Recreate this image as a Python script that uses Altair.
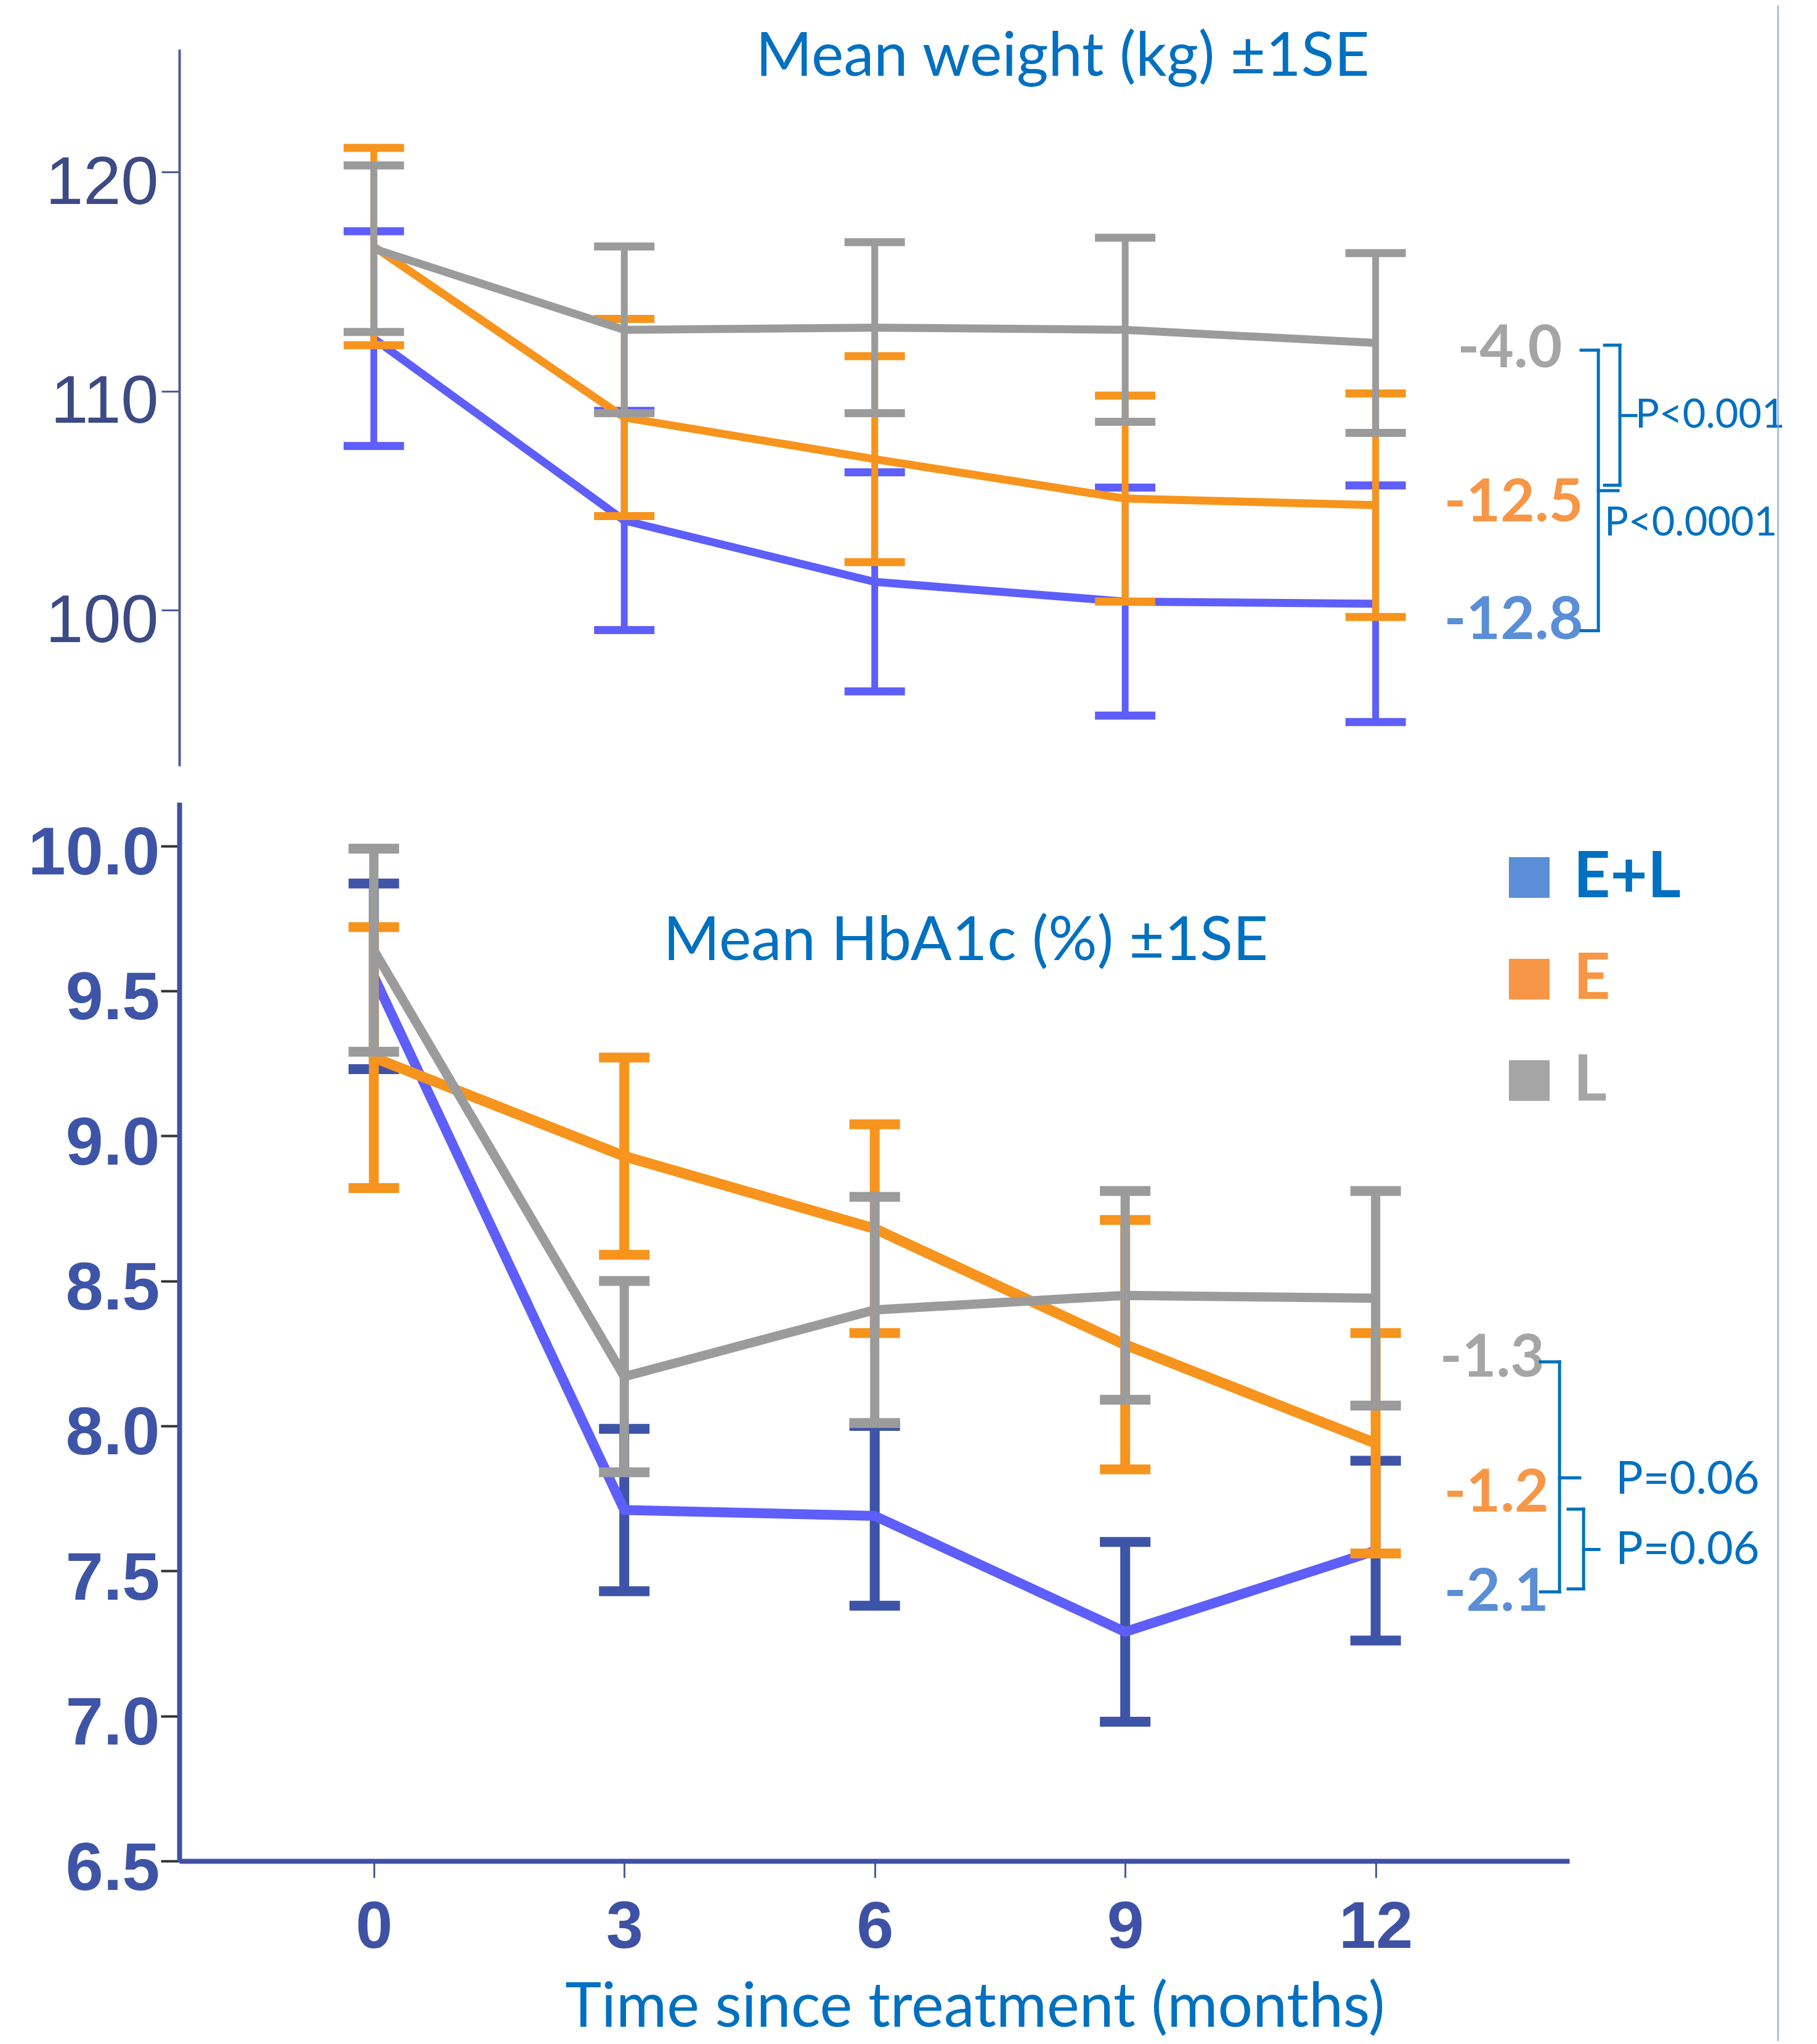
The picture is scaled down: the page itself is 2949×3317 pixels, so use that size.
import altair as alt
import pandas as pd

# ---------------- data ----------------
MONTHS = [0, 3, 6, 9, 12]
GROUPS = ["E+L", "E", "L"]

# Mean weight (kg) and SE
WT_MEAN_EL = [112.4, 104.1, 101.3, 100.4, 100.3]
WT_SE_EL = [4.9, 5.0, 5.0, 5.2, 5.4]
WT_MEAN_E = [116.6, 108.8, 106.9, 105.1, 104.8]
WT_SE_E = [4.5, 4.5, 4.7, 4.7, 5.1]
WT_MEAN_L = [116.5, 112.8, 112.9, 112.8, 112.2]
WT_SE_L = [3.8, 3.8, 3.9, 4.2, 4.1]

# Mean HbA1c (%) and SE
HBA_MEAN_EL = [9.55, 7.71, 7.69, 7.29, 7.57]
HBA_SE_EL = [0.32, 0.28, 0.31, 0.31, 0.31]
HBA_MEAN_E = [9.27, 8.93, 8.68, 8.28, 7.94]
HBA_SE_E = [0.45, 0.34, 0.36, 0.43, 0.38]
HBA_MEAN_L = [9.64, 8.17, 8.40, 8.45, 8.44]
HBA_SE_L = [0.35, 0.33, 0.39, 0.36, 0.37]

WT_TICKS = [100, 110, 120]
HBA_TICKS = [6.5, 7.0, 7.5, 8.0, 8.5, 9.0, 9.5, 10.0]

# annotation texts
WT_TITLE = "Mean weight (kg) \u00b11SE"
HBA_TITLE = "Mean HbA1c (%) \u00b11SE"
X_TITLE = "Time since treatment (months)"
WT_CHANGE = ["-4.0", "-12.5", "-12.8"]
WT_CHANGE_GROUP = ["L", "E", "E+L"]
HBA_CHANGE = ["-1.3", "-1.2", "-2.1"]
HBA_CHANGE_GROUP = ["L", "E", "E+L"]
WT_P = ["P<0.001", "P<0.0001"]
HBA_P = ["P=0.06", "P=0.06"]

# annotation positions (data units: months / kg / %)
WT_CHANGE_X = [12.98, 12.82, 12.82]
WT_CHANGE_Y = [111.08, 104.05, 98.70]
HBA_CHANGE_X = [12.77, 12.82, 12.82]
HBA_CHANGE_Y = [8.170, 7.704, 7.362]
WT_P_X = [15.11, 14.74]
WT_P_Y = [108.35, 103.42]
HBA_P_X = [14.875, 14.875]
HBA_P_Y = [7.766, 7.523]
WT_TITLE_POS = (8.25, 124.39)
HBA_TITLE_POS = (7.09, 9.607)

# bracket segments (x, y, x2, y2)
WT_BRACKETS = [
    (14.742, 112.10, 14.926, 112.10), (14.926, 112.10, 14.926, 105.71),
    (14.742, 105.71, 14.926, 105.71), (14.926, 108.89, 15.118, 108.89),
    (14.461, 111.87, 14.668, 111.87), (14.668, 111.87, 14.668, 99.07),
    (14.461, 99.07, 14.668, 99.07), (14.668, 105.46, 14.904, 105.46),
]
HBA_BRACKETS = [
    (13.974, 8.221, 14.203, 8.221), (14.203, 8.221, 14.203, 7.428),
    (13.974, 7.428, 14.203, 7.428), (14.203, 7.821, 14.446, 7.821),
    (14.306, 7.713, 14.491, 7.713), (14.491, 7.713, 14.491, 7.438),
    (14.306, 7.438, 14.491, 7.438), (14.491, 7.574, 14.675, 7.574),
]

# legend (placed in HbA1c panel)
LEG_SQ_X = 13.84
LEG_SQ_Y = [9.891, 9.540, 9.191]
LEG_TX_X = 14.37
LEG_TX_Y = [9.823, 9.472, 9.121]

# slide border line (in HbA1c panel units)
BORDER_X = 16.82
BORDER_Y = [12.897, 5.879]

# ---------------- styling ----------------
X_DOMAIN = [-2.33, 14.32]
WT_DOMAIN = [92.9, 125.6]
HBA_DOMAIN = [6.5, 10.15]
PANEL_W = 2256
TOP_H = 1163
BOT_H = 1718

BLUE_LINE = "#5E5EFA"
BLUE_BAR_BOT = "#3E54A8"
ORANGE = "#F7941D"
GRAY = "#9B9B9B"
TXT_BLUE = "#0070C0"
LBL_COLORS = {"E+L": "#5A8ED6", "E": "#F79646", "L": "#A5A5A5"}
LEG_TXT_COLORS = {"E+L": "#0070C0", "E": "#F79646", "L": "#A5A5A5"}
TFONT = "Lato"
AFONT = "Liberation Sans"

xs = alt.Scale(domain=X_DOMAIN, nice=False, zero=False)
ys_top = alt.Scale(domain=WT_DOMAIN, nice=False, zero=False)
ys_bot = alt.Scale(domain=HBA_DOMAIN, nice=False, zero=False)

top_y_axis = alt.Axis(
    values=WT_TICKS, title=None, grid=False, labelFont=AFONT, labelFontSize=110,
    labelColor="#3C4A85", labelPadding=5, labelOffset=18, labelBaseline="middle",
    labelLimit=600,
    domainColor="#4B5A95", domainWidth=4, tickColor="#4B5A95", tickWidth=3, tickSize=29,
    labelOverlap=False, labelFlush=False,
)
bot_y_axis = alt.Axis(
    values=HBA_TICKS, format=".1f", title=None, grid=False, labelFont=AFONT,
    labelFontSize=110, labelFontWeight="bold", labelColor="#3E54A6", labelPadding=2,
    labelOffset=13, labelBaseline="middle", labelLimit=600,
    domainColor="#3F51A5", domainWidth=8, tickColor="#333333", tickWidth=4, tickSize=30,
    labelOverlap=False, labelFlush=False,
)
bot_x_axis = alt.Axis(
    values=MONTHS, title=X_TITLE, grid=False, labelFont=AFONT, labelFontSize=108,
    labelFontWeight="bold", labelColor="#3F51A5", labelPadding=28, labelLimit=600,
    domainColor="#3F51A5", domainWidth=8, tickColor="#4B5A95", tickWidth=3, tickSize=27,
    titleFont=TFONT, titleFontSize=100, titleFontWeight="normal", titleColor=TXT_BLUE,
    titleX=1291, titleY=268, titleBaseline="alphabetic", titleLimit=3000,
    labelOverlap=False, labelFlush=False,
)


def series_layers(mean, se, line_color, bar_color, line_w, bar_w, cap_size, cap_th, ys, ax_x, ax_y):
    df = pd.DataFrame({
        "month": MONTHS,
        "mean": mean,
        "lo": [m - s for m, s in zip(mean, se)],
        "hi": [m + s for m, s in zip(mean, se)],
    })
    base = alt.Chart(df)
    X = alt.X("month:Q", scale=xs, axis=ax_x)
    bar = base.mark_rule(color=bar_color, strokeWidth=bar_w).encode(
        x=X, y=alt.Y("lo:Q", scale=ys, axis=ax_y), y2="hi:Q")
    cap_hi = base.mark_tick(orient="horizontal", color=bar_color, size=cap_size,
                            thickness=cap_th, opacity=1).encode(
        x=X, y=alt.Y("hi:Q", scale=ys, axis=ax_y))
    cap_lo = base.mark_tick(orient="horizontal", color=bar_color, size=cap_size,
                            thickness=cap_th, opacity=1).encode(
        x=X, y=alt.Y("lo:Q", scale=ys, axis=ax_y))
    line = base.mark_line(color=line_color, strokeWidth=line_w, strokeJoin="round").encode(
        x=X, y=alt.Y("mean:Q", scale=ys, axis=ax_y))
    return [bar, cap_hi, cap_lo, line]


def text_layer(xv, yv, labels, colors, size, weight, ys, ax_x, ax_y, align="left"):
    df = pd.DataFrame({"x": xv, "y": yv, "label": labels, "col": colors})
    return alt.Chart(df).mark_text(
        align=align, baseline="alphabetic", font=TFONT, fontSize=size, fontWeight=weight
    ).encode(
        x=alt.X("x:Q", scale=xs, axis=ax_x),
        y=alt.Y("y:Q", scale=ys, axis=ax_y),
        text="label:N",
        color=alt.Color("col:N", scale=None, legend=None),
    )


def bracket_layer(segs, ys, ax_x, ax_y):
    df = pd.DataFrame(segs, columns=["x", "y", "x2", "y2"])
    return alt.Chart(df).mark_rule(color=TXT_BLUE, strokeWidth=5, strokeCap="square").encode(
        x=alt.X("x:Q", scale=xs, axis=ax_x), x2="x2:Q",
        y=alt.Y("y:Q", scale=ys, axis=ax_y), y2="y2:Q",
    )


# ---------------- top panel: weight ----------------
top_layers = []
top_layers += series_layers(WT_MEAN_EL, WT_SE_EL, BLUE_LINE, BLUE_LINE, 13, 11, 98, 13, ys_top, None, top_y_axis)
top_layers += series_layers(WT_MEAN_E, WT_SE_E, ORANGE, ORANGE, 13, 11, 98, 13, ys_top, None, top_y_axis)
top_layers += series_layers(WT_MEAN_L, WT_SE_L, GRAY, GRAY, 13, 11, 98, 13, ys_top, None, top_y_axis)
top_layers.append(text_layer(WT_CHANGE_X, WT_CHANGE_Y, WT_CHANGE,
                             [LBL_COLORS[g] for g in WT_CHANGE_GROUP], 96, "bold",
                             ys_top, None, top_y_axis))
top_layers.append(text_layer(WT_P_X, WT_P_Y, WT_P, [TXT_BLUE] * 2, 65, "normal",
                             ys_top, None, top_y_axis))
top_layers.append(text_layer([WT_TITLE_POS[0]], [WT_TITLE_POS[1]], [WT_TITLE], [TXT_BLUE], 99, "normal",
                             ys_top, None, top_y_axis, align="center"))
top_layers.append(bracket_layer(WT_BRACKETS, ys_top, None, top_y_axis))

top = alt.layer(*top_layers).properties(width=PANEL_W, height=TOP_H)

# ---------------- bottom panel: HbA1c ----------------
bot_layers = []
bot_layers += series_layers(HBA_MEAN_EL, HBA_SE_EL, BLUE_LINE, BLUE_BAR_BOT, 16, 16, 82, 16, ys_bot, bot_x_axis, bot_y_axis)
bot_layers += series_layers(HBA_MEAN_E, HBA_SE_E, ORANGE, ORANGE, 17, 16, 82, 16, ys_bot, bot_x_axis, bot_y_axis)
bot_layers += series_layers(HBA_MEAN_L, HBA_SE_L, GRAY, GRAY, 15, 15, 82, 16, ys_bot, bot_x_axis, bot_y_axis)
bot_layers.append(text_layer(HBA_CHANGE_X, HBA_CHANGE_Y, HBA_CHANGE,
                             [LBL_COLORS[g] for g in HBA_CHANGE_GROUP], 96, "bold",
                             ys_bot, bot_x_axis, bot_y_axis))
bot_layers.append(text_layer(HBA_P_X, HBA_P_Y, HBA_P, [TXT_BLUE] * 2, 74, "normal",
                             ys_bot, bot_x_axis, bot_y_axis))
bot_layers.append(text_layer([HBA_TITLE_POS[0]], [HBA_TITLE_POS[1]], [HBA_TITLE], [TXT_BLUE], 99, "normal",
                             ys_bot, bot_x_axis, bot_y_axis, align="center"))
bot_layers.append(bracket_layer(HBA_BRACKETS, ys_bot, bot_x_axis, bot_y_axis))

# legend squares + labels
leg_sq = pd.DataFrame({"x": [LEG_SQ_X] * 3, "y": LEG_SQ_Y,
                       "col": [LBL_COLORS[g] for g in GROUPS]})
bot_layers.append(alt.Chart(leg_sq).mark_square(size=66 * 66, opacity=1, filled=True).encode(
    x=alt.X("x:Q", scale=xs, axis=bot_x_axis),
    y=alt.Y("y:Q", scale=ys_bot, axis=bot_y_axis),
    color=alt.Color("col:N", scale=None, legend=None),
))
bot_layers.append(text_layer([LEG_TX_X] * 3, LEG_TX_Y, GROUPS,
                             [LEG_TXT_COLORS[g] for g in GROUPS], 104, "bold",
                             ys_bot, bot_x_axis, bot_y_axis))

# slide border
border = pd.DataFrame({"x": [BORDER_X], "y": [BORDER_Y[0]], "y2": [BORDER_Y[1]]})
bot_layers.append(alt.Chart(border).mark_rule(color="#7FA3DA", strokeWidth=2).encode(
    x=alt.X("x:Q", scale=xs, axis=bot_x_axis),
    y=alt.Y("y:Q", scale=ys_bot, axis=bot_y_axis), y2="y2:Q",
))

bottom = alt.layer(*bot_layers).properties(width=PANEL_W, height=BOT_H)

chart = alt.vconcat(top, bottom, spacing=59, bounds="flush").properties(
    padding={"left": 36, "top": 0, "right": 0, "bottom": 0},
    background="white",
).configure_view(stroke=None)

chart.save("out.html", embed_options={"renderer": "svg", "actions": False})
